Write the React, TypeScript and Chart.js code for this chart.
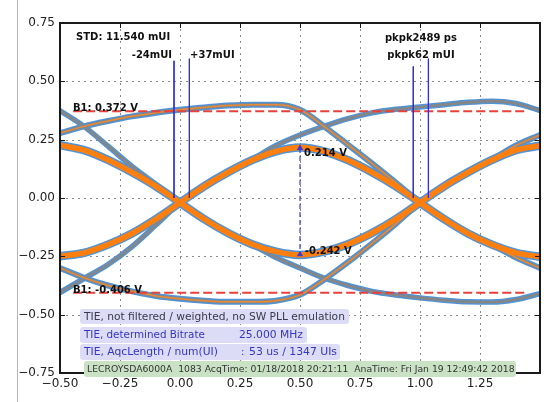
import React, { useEffect, useRef } from 'react';
import { Chart, registerables } from 'chart.js';
Chart.register(...registerables);

// ---- axis ticks ----
const xTicks = [-0.5, -0.25, 0, 0.25, 0.5, 0.75, 1, 1.25, 1.5];
const yTicks = [-0.75, -0.5, -0.25, 0, 0.25, 0.5, 0.75];

// ---- orange (dense, alternating) arcs, split at the crossings ----
const arcXa = [-0.5, -0.4, -0.3, -0.2, -0.1, 0];
const arcXb = [0, 0.1, 0.2, 0.3, 0.4, 0.5, 0.6, 0.7, 0.8, 0.9, 1.0];
const arcXc = [1.0, 1.1, 1.2, 1.3, 1.4, 1.5];
const upperArcA = [0.226, 0.205, 0.163, 0.11, 0.05, -0.02];
const upperArcB = [-0.02, 0.05, 0.11, 0.162, 0.2, 0.216, 0.2, 0.162, 0.11, 0.05, -0.02];
const upperArcC = [-0.02, 0.05, 0.11, 0.163, 0.205, 0.224];
const lowerArcA = [-0.25, -0.235, -0.2, -0.152, -0.09, -0.02];
const lowerArcB = [-0.02, -0.09, -0.15, -0.198, -0.23, -0.244, -0.23, -0.198, -0.15, -0.09, -0.02];
const lowerArcC = [-0.02, -0.09, -0.152, -0.2, -0.235, -0.252];

// ---- grey (long run) traces ----
const traceX = [-0.5, -0.4, -0.3, -0.2, -0.1, 0, 0.1, 0.2, 0.3, 0.4, 0.5, 0.6, 0.7, 0.8, 0.9, 1.0, 1.1, 1.2, 1.3, 1.4, 1.5];
const highFallY = [0.374, 0.307, 0.222, 0.135, 0.058, -0.02, -0.09, -0.15, -0.2, -0.255, -0.3, -0.343, -0.375, -0.4, -0.416, -0.428, -0.438, -0.445, -0.446, -0.435, -0.41];
const lowRiseY = [-0.405, -0.345, -0.285, -0.208, -0.115, -0.02, 0.05, 0.11, 0.165, 0.225, 0.27, 0.307, 0.34, 0.365, 0.38, 0.39, 0.4, 0.41, 0.415, 0.405, 0.375];
const highHoldY = [0.278, 0.307, 0.33, 0.35, 0.365, 0.378, 0.388, 0.396, 0.4, 0.4, 0.378, 0.307, 0.228, 0.148, 0.065, -0.02, -0.09, -0.15, -0.2, -0.255, -0.3];
const lowHoldY = [-0.3, -0.342, -0.375, -0.4, -0.42, -0.432, -0.44, -0.445, -0.445, -0.44, -0.415, -0.35, -0.275, -0.195, -0.11, -0.02, 0.05, 0.11, 0.165, 0.225, 0.27];

// ---- measurement markers ----
const levelLines = [0.372, -0.406];
const levelSpan = [-0.445, 1.435];
const cursorX = [-0.025, 0.039, 0.972, 1.035];
const cursorTop = [0.588, 0.597, 0.564, 0.597];
const cursorBottom = 0.0;
const eyeX = 0.5;
const eyeLevels = [0.214, -0.242];

const HALO = '#5293d3';
const GREY = '#868686';
const ORANGE = '#ff7f0e';

const annotations = [
  { t: 'STD: 11.540 mUI', x: -0.433, y: 0.688, align: 'left' },
  { t: '-24mUI', x: -0.033, y: 0.611, align: 'right' },
  { t: '+37mUI', x: 0.042, y: 0.611, align: 'left' },
  { t: 'pkpk2489 ps', x: 1.004, y: 0.684, align: 'center' },
  { t: 'pkpk62 mUI', x: 1.004, y: 0.611, align: 'center' },
  { t: 'B1: 0.372 V', x: -0.446, y: 0.386, align: 'left' },
  { t: 'B1: -0.406 V', x: -0.446, y: -0.395, align: 'left' },
  { t: '0.214 V', x: 0.517, y: 0.191, align: 'left' },
  { t: '-0.242 V', x: 0.52, y: -0.231, align: 'left' },
];

const infoRows = [
  { box: [80, 309, 349, 324], fill: '#dcdcf6', color: '#3a3a4a', items: [['TIE, not filtered / weighted, no SW PLL emulation', 84, 261]] },
  { box: [80, 327, 307, 343], fill: '#dcdcf6', color: '#3535c8', items: [['TIE, determined Bitrate', 84, 121], ['25.000 MHz', 239, 64]] },
  { box: [80, 344, 340, 360], fill: '#dcdcf6', color: '#3535c8', items: [['TIE, AqcLength / num(UI)', 84, 134], [':', 241, 0], ['53 us / 1347 UIs', 249, 88]] },
  { box: [84, 361, 516, 377], fill: '#c9e2c3', color: '#333333', items: [['LECROYSDA6000A  1083 AcqTime: 01/18/2018 20:21:11  AnaTime: Fri Jan 19 12:49:42 2018', 87, 428]] },
];

const fmt = (v: number) => (v < 0 ? '\u2212' : '') + Math.abs(v).toFixed(2);

export default function App() {
  const ref = useRef<HTMLCanvasElement>(null);
  useEffect(() => {
    const canvas = ref.current!;
    const pts = (xs: number[], ys: number[]) => xs.map((x, i) => ({ x, y: ys[i] }));
    const common = { pointRadius: 0, fill: false, cubicInterpolationMode: 'monotone', borderCapStyle: 'round', borderJoinStyle: 'round' };
    const datasets: any[] = [];
    const addTrace = (xs: number[], ys: number[], core: string, coreW: number, haloW: number, order: number) => {
      datasets.push({ ...common, data: pts(xs, ys), borderColor: HALO, borderWidth: haloW, order: 60 });
      datasets.push({ ...common, data: pts(xs, ys), borderColor: core, borderWidth: coreW, order });
    };
    addTrace(traceX, highFallY, GREY, 2.6, 5.5, 30);
    addTrace(traceX, lowRiseY, GREY, 2.6, 5.5, 30);
    addTrace(traceX, highHoldY, GREY, 3, 6, 29);
    addTrace(traceX, lowHoldY, GREY, 3, 6, 29);
    datasets.push({ ...common, data: pts(traceX, highHoldY), borderColor: '#e88a36', borderWidth: 1.5, order: 28 });
    datasets.push({ ...common, data: pts(traceX, lowHoldY), borderColor: '#e88a36', borderWidth: 1.5, order: 28 });
    addTrace(arcXa, upperArcA, ORANGE, 5.5, 8.5, 10);
    addTrace(arcXb, upperArcB, ORANGE, 5.5, 8.5, 10);
    addTrace(arcXc, upperArcC, ORANGE, 5.5, 8.5, 10);
    addTrace(arcXa, lowerArcA, ORANGE, 5.5, 8.5, 10);
    addTrace(arcXb, lowerArcB, ORANGE, 5.5, 8.5, 10);
    addTrace(arcXc, lowerArcC, ORANGE, 5.5, 8.5, 10);
    levelLines.forEach((lv) => {
      datasets.push({ data: levelSpan.map((x) => ({ x, y: lv })), borderColor: '#e8403a', borderWidth: 2, borderDash: [9, 4], pointRadius: 0, tension: 0, order: 3 });
    });
    cursorX.forEach((cx, i) => {
      datasets.push({ data: [{ x: cx, y: cursorTop[i] }, { x: cx, y: cursorBottom }], borderColor: '#3030e0', borderWidth: 1, pointRadius: 0, tension: 0, order: 2 });
    });
    datasets.push({
      data: eyeLevels.map((y) => ({ x: eyeX, y })), borderColor: '#3b3bd6', borderWidth: 1.2, borderDash: [5, 3],
      pointRadius: 2.5, pointStyle: 'triangle', pointBackgroundColor: '#3b3bd6', pointBorderColor: '#3b3bd6', tension: 0, order: 1,
    });

    const decor = {
      id: 'decor',
      beforeDatasetsDraw(chart: any) {
        const { ctx, chartArea: a, scales } = chart;
        ctx.save();
        ctx.strokeStyle = '#8a8a8a';
        ctx.lineWidth = 1;
        ctx.setLineDash([2, 4]);
        xTicks.forEach((v) => {
          const p = Math.round(scales.x.getPixelForValue(v)) + 0.5;
          if (p <= a.left + 1 || p >= a.right - 1) return;
          ctx.beginPath(); ctx.moveTo(p, a.top); ctx.lineTo(p, a.bottom); ctx.stroke();
        });
        yTicks.forEach((v) => {
          const p = Math.round(scales.y.getPixelForValue(v)) + 0.5;
          if (p <= a.top + 1 || p >= a.bottom - 1) return;
          ctx.beginPath(); ctx.moveTo(a.left, p); ctx.lineTo(a.right, p); ctx.stroke();
        });
        ctx.restore();
      },
      afterDraw(chart: any) {
        const { ctx, scales } = chart;
        ctx.save();
        ctx.setLineDash([]);
        ctx.globalAlpha = 1;
        // left figure edge line
        ctx.fillStyle = '#b4b4b4';
        ctx.fillRect(17, 0, 1, 402);
        // annotations
        ctx.fillStyle = '#111';
        ctx.font = 'bold 10px "DejaVu Sans"';
        ctx.textBaseline = 'middle';
        annotations.forEach((an) => {
          ctx.textAlign = an.align as CanvasTextAlign;
          ctx.fillText(an.t, scales.x.getPixelForValue(an.x), scales.y.getPixelForValue(an.y));
        });
        // frame and inward ticks
        const L = Math.round(scales.x.getPixelForValue(-0.5));
        const R = Math.round(scales.x.getPixelForValue(1.5));
        const T = Math.round(scales.y.getPixelForValue(0.75));
        const B = Math.round(scales.y.getPixelForValue(-0.75));
        ctx.fillStyle = '#1a1a1a';
        ctx.fillRect(L - 1, T - 1, R - L + 2, 2);
        ctx.fillRect(L - 1, B - 1, R - L + 2, 2);
        ctx.fillRect(L - 1, T - 1, 2, B - T + 2);
        ctx.fillRect(R - 1, T - 1, 2, B - T + 2);
        xTicks.forEach((v) => {
          const p = Math.round(scales.x.getPixelForValue(v));
          ctx.fillRect(p, B - 5, 1, 5);
          ctx.fillRect(p, T, 1, 5);
        });
        yTicks.forEach((v) => {
          const p = Math.round(scales.y.getPixelForValue(v));
          ctx.fillRect(L, p, 5, 1);
          ctx.fillRect(R - 5, p, 5, 1);
        });
        // info boxes (drawn over the bottom frame, as in the source)
        ctx.textAlign = 'left';
        ctx.textBaseline = 'middle';
        infoRows.forEach((r) => {
          const [x0, y0, x1, y1] = r.box;
          ctx.fillStyle = r.fill;
          ctx.beginPath();
          (ctx as any).roundRect(x0, y0, x1 - x0, y1 - y0, 3);
          ctx.fill();
          ctx.fillStyle = r.color;
          r.items.forEach(([t, x, w]: any) => {
            let size = 10;
            ctx.font = `${size}px "DejaVu Sans"`;
            if (w > 0) {
              const m = ctx.measureText(t).width;
              size = Math.max(7, Math.min(12, size * w / m));
              ctx.font = `${size.toFixed(2)}px "DejaVu Sans"`;
            }
            ctx.fillText(t, x, (y0 + y1) / 2 + 0.5);
          });
        });
        ctx.restore();
      },
    };

    const tickFont = { family: '"DejaVu Sans"', size: 12 };
    const chart = new Chart(canvas, {
      type: 'line',
      data: { datasets },
      options: {
        animation: false,
        responsive: false,
        maintainAspectRatio: false,
        layout: { padding: { left: 0, top: 23, right: 16, bottom: 0 } },
        plugins: { legend: { display: false }, tooltip: { enabled: false } },
        scales: {
          x: {
            type: 'linear', min: -0.5, max: 1.5,
            afterBuildTicks: (ax: any) => { ax.ticks = xTicks.map((value) => ({ value })); },
            afterFit: (ax: any) => { ax.height = 29; },
            grid: { display: false, drawTicks: false },
            border: { display: false },
            ticks: { color: '#222', font: tickFont, padding: 4, maxRotation: 0, autoSkip: false,
              callback: (v: any) => (Math.abs(v - 1.5) < 1e-9 ? '' : fmt(Number(v))) },
          },
          y: {
            type: 'linear', min: -0.75, max: 0.75,
            afterBuildTicks: (ax: any) => { ax.ticks = yTicks.map((value) => ({ value })); },
            afterFit: (ax: any) => { ax.width = 60; },
            grid: { display: false, drawTicks: false },
            border: { display: false },
            ticks: { color: '#222', font: tickFont, padding: 5, autoSkip: false, callback: (v: any) => fmt(Number(v)) },
          },
        },
      } as any,
      plugins: [decor],
    });
    return () => chart.destroy();
  }, []);
  return (
    <div style={{ position: 'fixed', left: 0, top: 0, width: 556, height: 402, background: '#fff' }}>
      <canvas ref={ref} width={556} height={402} style={{ display: 'block', width: 556, height: 402 }} />
    </div>
  );
}
